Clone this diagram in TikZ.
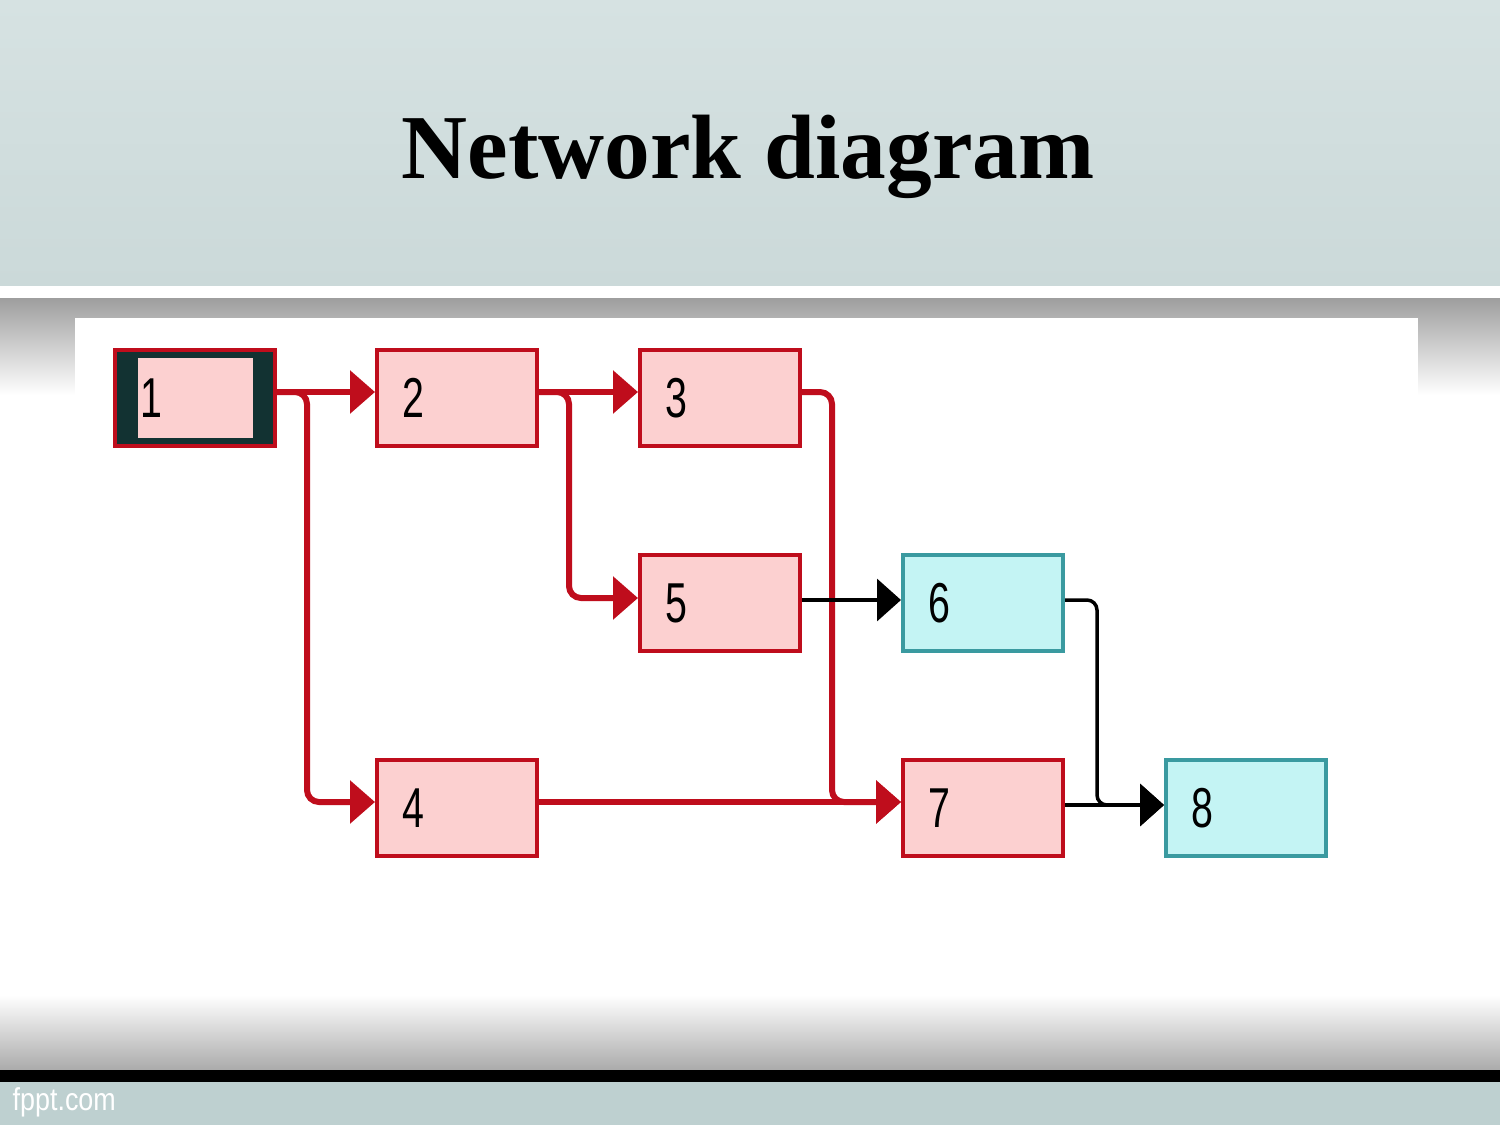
\documentclass[tikz,border=0pt]{standalone}
\usepackage{fontspec}
\usepackage{xcolor}
\usepackage{tikz}
\usetikzlibrary{arrows.meta, positioning, calc}
\newfontfamily\titlefont{Liberation Serif}
\newfontfamily\digitfont[FakeStretch=0.7]{Liberation Sans}
\newfontfamily\footfont[FakeStretch=0.85]{Liberation Sans}
\definecolor{redline}{RGB}{191, 13, 28}
\definecolor{pinkfill}{RGB}{252, 208, 208}
\definecolor{cyanfill}{RGB}{196, 244, 244}
\definecolor{tealline}{RGB}{58, 154, 160}
\definecolor{boxdark}{RGB}{18, 50, 50}
\definecolor{hdrtop}{RGB}{214, 226, 226}
\definecolor{hdrbot}{RGB}{203, 217, 217}
\definecolor{footbg}{RGB}{190, 208, 208}

\begin{document}
\begin{tikzpicture}[x=1cm, y=1cm,
  pbox/.style={rectangle, draw=redline, fill=pinkfill, line width=0.04cm,
    minimum width=1.6cm, minimum height=0.96cm,
    text width=1.1cm, inner xsep=0.25cm, align=left,
    font=\digitfont\fontsize{16pt}{16pt}\selectfont},
  cbox/.style={pbox, draw=tealline, fill=cyanfill},
  arr/.style={-{Triangle[length=0.25cm, width=0.42cm]},
    line width=0.06cm, color=redline, rounded corners=0.12cm},
  blk/.style={-{Triangle[length=0.24cm, width=0.42cm]},
    line width=0.035cm, color=black, rounded corners=0.1cm}
]
\useasboundingbox (0,0) rectangle (15,-11.25);

% slide background
\shade[top color=hdrtop, bottom color=hdrbot] (0,0) rectangle (15,-2.86);
\fill[white] (0,-2.86) rectangle (15,-2.98);
\shade[top color=black!38, bottom color=white] (0,-2.98) rectangle (15,-3.95);
\fill[white] (0,-3.95) rectangle (15,-9.95);
\fill[white] (0.75,-3.18) rectangle (14.18,-9.95);
\shade[top color=white, bottom color=black!33] (0,-9.95) rectangle (15,-10.70);
\fill[black] (0,-10.70) rectangle (15,-10.82);
\fill[footbg] (0,-10.82) rectangle (15,-11.25);

\node[font=\titlefont\bfseries\fontsize{26pt}{30pt}\selectfont, anchor=base]
  at (7.48,-1.78) (title) {Network diagram};
\node[font=\footfont\fontsize{9pt}{10pt}\selectfont, text=white,
  anchor=base west, inner sep=0] at (0.12,-11.10) (foot) {fppt.com};

% activities
\node[pbox, fill=boxdark] at (1.95,-3.98) (n1) {};
\node[rectangle, fill=pinkfill, minimum width=1.15cm, minimum height=0.8cm,
      text width=1.09cm, inner xsep=0.03cm, align=left,
      font=\digitfont\fontsize{16pt}{16pt}\selectfont]
  at (n1.center) (n1in) {1};
\node[pbox] at (4.57,-3.98) (n2) {2};
\node[pbox] at (7.20,-3.98) (n3) {3};
\node[pbox] at (7.20,-6.03) (n5) {5};
\node[cbox] at (9.83,-6.03) (n6) {6};
\node[pbox] at (4.57,-8.08) (n4) {4};
\node[pbox] at (9.83,-8.08) (n7) {7};
\node[cbox] at (12.46,-8.08) (n8) {8};

% critical path
\draw[arr] ([yshift=0.6mm]n1.east) -- ([yshift=0.6mm]n2.west);
\draw[arr] ([yshift=0.6mm]n1.east) -- ++(0.3,0) |- ([yshift=0.6mm]n4.west);
\draw[arr] ([yshift=0.6mm]n2.east) -- ([yshift=0.6mm]n3.west);
\draw[arr] ([yshift=0.6mm]n2.east) -- ++(0.3,0) |- ([yshift=0.5mm]n5.west);
\draw[arr] ([yshift=0.6mm]n3.east) -- ++(0.3,0) |- ([yshift=0.6mm]n7.west);
\draw[arr] ([yshift=0.6mm]n4.east) -- ([yshift=0.6mm]n7.west);

% other links
\draw[blk] ([yshift=0.3mm]n5.east) -- ([yshift=0.3mm]n6.west);
\draw[blk] ([yshift=0.3mm]n6.east) -- ++(0.32,0) |- ([yshift=0.3mm]n8.west);
\draw[blk] ([yshift=0.3mm]n7.east) -- ([yshift=0.3mm]n8.west);
\end{tikzpicture}
\end{document}
